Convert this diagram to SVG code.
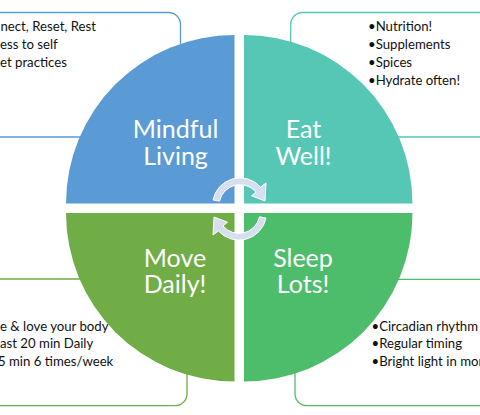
<svg xmlns="http://www.w3.org/2000/svg" width="480" height="415" viewBox="0 0 480 415">
<style>
.box{fill:#fff;stroke-width:1.3}
.t{font-family:Lato,"Liberation Sans",sans-serif;font-size:13.2px;fill:#111}
.lbl{font-family:Lato,"Liberation Sans",sans-serif;font-size:25px;fill:#fff;text-anchor:middle}
.arr{fill:#D5DFF0;stroke:#fff;stroke-width:1}
</style>
<rect width="480" height="415" fill="#fff"/>
<g id="box-mindful"><rect class="box" x="-30" y="12.5" width="210.5" height="124.5" rx="12" stroke="#5B9BD5"/>
<text class="t"><tspan x="0.5" y="30.5">nect, Reset, Rest</tspan><tspan x="0" y="48.5">ess to self</tspan><tspan x="0" y="66.5">et practices</tspan></text></g>
<g id="box-eat"><rect class="box" x="290.7" y="12.5" width="220" height="124.5" rx="12" stroke="#56C6B5"/>
<text class="t"><tspan x="368" y="30.5">•Nutrition!</tspan><tspan x="368" y="48.5">•Supplements</tspan><tspan x="368" y="66.5">•Spices</tspan><tspan x="368" y="84.5">•Hydrate often!</tspan></text></g>
<g id="box-move"><rect class="box" x="-30" y="279" width="217" height="126.7" rx="12" stroke="#70AD47"/>
<text class="t"><tspan x="0" y="330.5">e &amp; love your body</tspan><tspan x="0" y="348">ast 20 min Daily</tspan><tspan x="-2" y="365.5">5 min 6 times/week</tspan></text></g>
<g id="box-sleep"><rect class="box" x="295" y="279.3" width="220" height="126.4" rx="12" stroke="#4DBD6B"/>
<text class="t"><tspan x="371.5" y="330.5">•Circadian rhythm</tspan><tspan x="371.5" y="348">•Regular timing</tspan><tspan x="371.5" y="365.5">•Bright light in mor</tspan></text></g>
<g id="mindful"><path d="M234.5,203.5H66A168.5,168.5 0 0 1 234.5,35Z" fill="#5B9BD5"/>
<text class="lbl"><tspan x="175.5" y="138">Mindful</tspan><tspan x="175.5" y="165">Living</tspan></text></g>
<g id="eat"><path d="M244,203.5V35A168.5,168.5 0 0 1 412.5,203.5Z" fill="#56C6B5"/>
<text class="lbl"><tspan x="303.5" y="138">Eat</tspan><tspan x="303.5" y="165">Well!</tspan></text></g>
<g id="move"><path d="M234.5,213H66A168.5,168.5 0 0 0 234.5,381.5Z" fill="#70AD47"/>
<text class="lbl"><tspan x="175" y="266.5">Move</tspan><tspan x="175" y="293">Daily!</tspan></text></g>
<g id="sleep"><path d="M244,213H412.5A168.5,168.5 0 0 1 244,381.5Z" fill="#4DBD6B"/>
<text class="lbl"><tspan x="303" y="266.5">Sleep</tspan><tspan x="303" y="293">Lots!</tspan></text></g>
<g id="connectors">
<path class="arr" d="M213,199.9A27.6,27.6 0 0 1 260.6,187.1L266,183L265,201L251.5,195.8L256.1,192.1A21,21 0 0 0 219.5,201.2Z"/>
<path class="arr" transform="rotate(180 239.5 209)" d="M213,199.9A27.6,27.6 0 0 1 260.6,187.1L266,183L265,201L251.5,195.8L256.1,192.1A21,21 0 0 0 219.5,201.2Z"/>
</g>
</svg>
